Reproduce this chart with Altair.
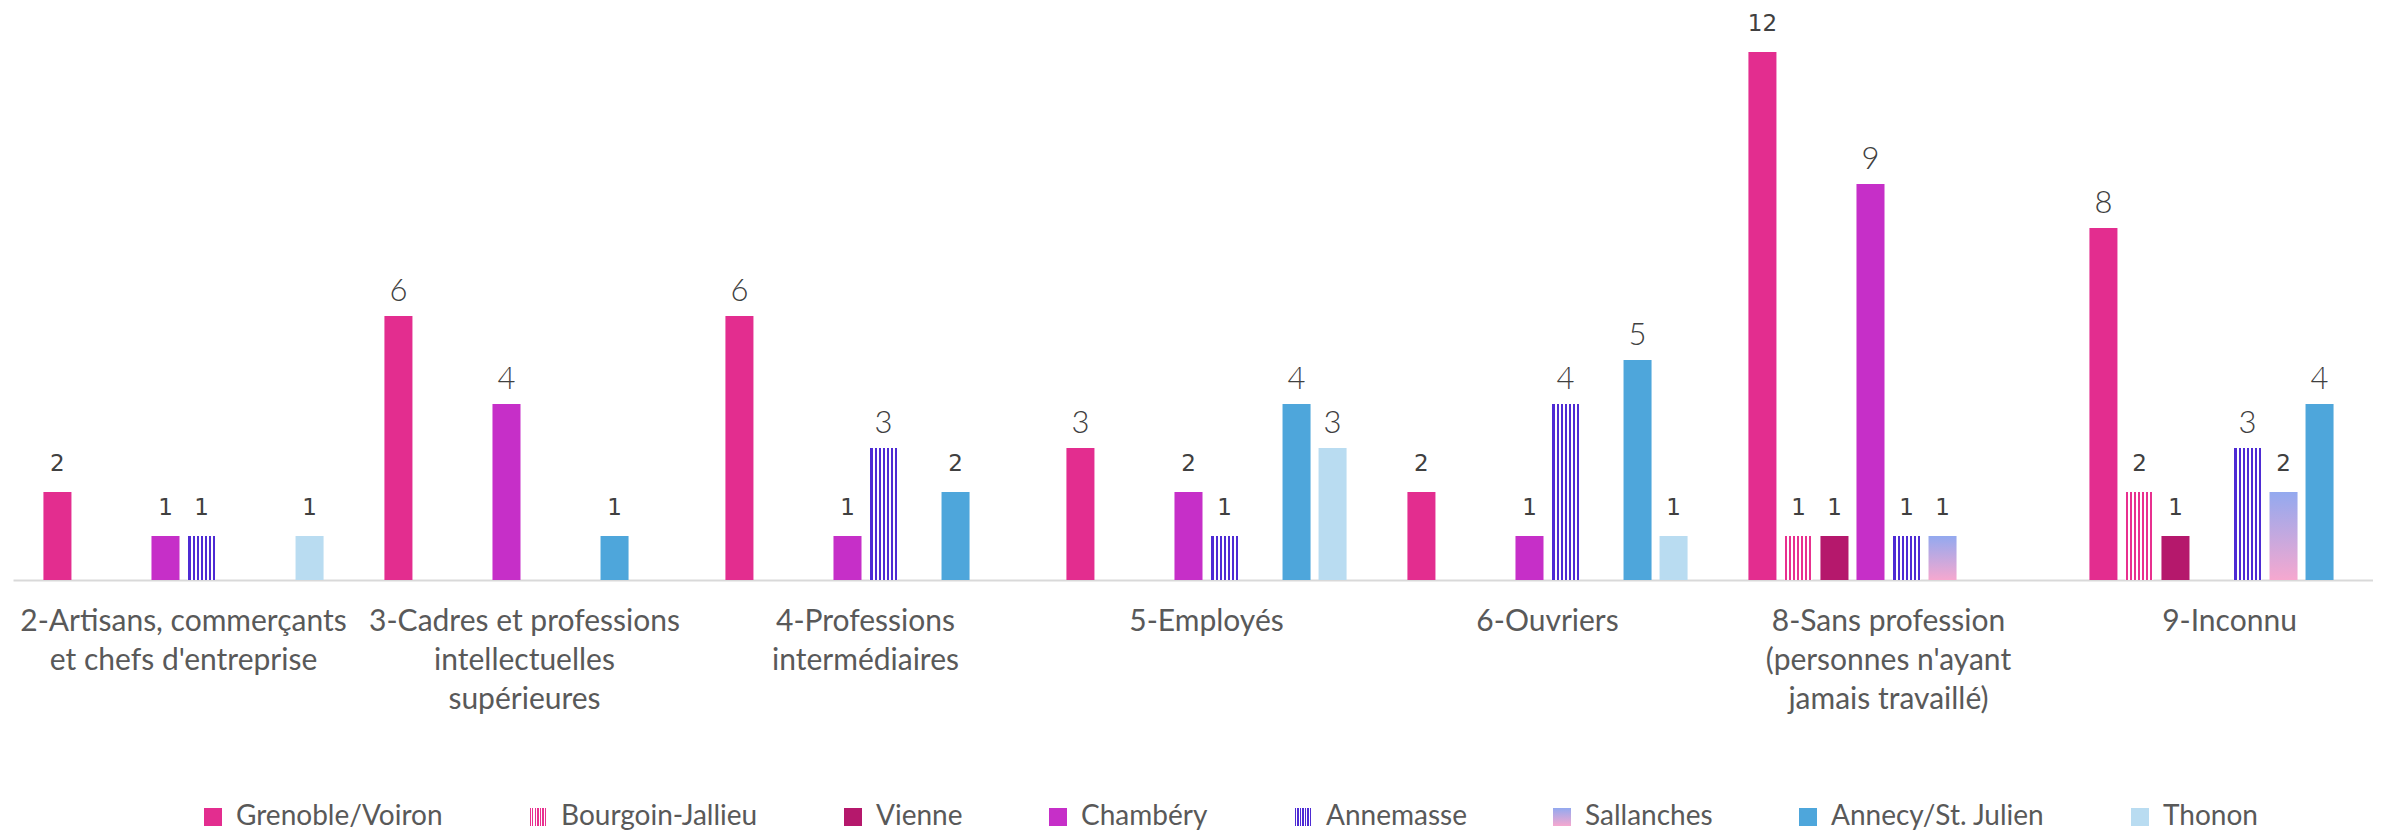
import altair as alt
import pandas as pd

# ---- data ----
categories = [
    "2-Artisans, commerçants\net chefs d'entreprise",
    "3-Cadres et professions\nintellectuelles\nsupérieures",
    "4-Professions\nintermédiaires",
    "5-Employés",
    "6-Ouvriers",
    "8-Sans profession\n(personnes n'ayant\njamais travaillé)",
    "9-Inconnu",
]
series = ["Grenoble/Voiron", "Bourgoin-Jallieu", "Vienne", "Chambéry",
          "Annemasse", "Sallanches", "Annecy/St. Julien", "Thonon"]

grenoble   = [2, 6, 6, 3, 2, 12, 8]
bourgoin   = [None, None, None, None, None, 1, 2]
vienne     = [None, None, None, None, None, 1, 1]
chambery   = [1, 4, 1, 2, 1, 9, None]
annemasse  = [1, None, 3, 1, 4, 1, 3]
sallanches = [None, None, None, None, None, 1, 2]
annecy     = [None, 1, 2, 4, 5, None, 4]
thonon     = [1, None, None, 3, 1, None, None]

values = [grenoble, bourgoin, vienne, chambery, annemasse, sallanches, annecy, thonon]

# label values drawn in the reference's smaller, heavier figure style
small_label_values = [1, 2, 12]

rows = []
for s, vals in zip(series, values):
    for c, v in zip(categories, vals):
        if v is not None:
            rows.append({"cat": c, "serie": s, "value": v})
df = pd.DataFrame(rows)

# ---- styles ----
def stripes_expr(color, n=7, width=28):
    stops = [(0, "#ffffff")]
    for k in range(n):
        a = (4 * k + 1) / width
        b = (4 * k + 3) / width
        stops += [(a, "#ffffff"), (a, color), (b, color), (b, "#ffffff")]
    stops.append((1, "#ffffff"))
    s = ",".join("{offset:%.5f,color:'%s'}" % (o, c) for o, c in stops)
    return {"expr": "{gradient:'linear',x1:0,y1:0,x2:1,y2:0,stops:[%s]}" % s}

def vgrad_expr(top, bottom):
    return {"expr": "{gradient:'linear',x1:0,y1:0,x2:0,y2:1,stops:[{offset:0,color:'%s'},{offset:1,color:'%s'}]}" % (top, bottom)}

palette = [
    "#E32D8F",
    stripes_expr("#E8308F"),
    "#B5186C",
    "#C62FC8",
    stripes_expr("#4E2BD4"),
    vgrad_expr("#93A9EF", "#F6A8CF"),
    "#4EA6DB",
    "#B9DCF1",
]

FONT = "Lato"

x_enc = alt.X("cat:N", sort=categories, title=None,
              scale=alt.Scale(range=[0, 2387], paddingInner=0.155, paddingOuter=0.0775),
              axis=alt.Axis(labelAngle=0, labelExpr="split(datum.label, '\\n')",
                            labelFont=FONT, labelFontSize=30, labelColor="#595959",
                            labelLineHeight=39, labelPadding=26, labelBaseline="top",
                            ticks=False, domainColor="#D9D9D9", domainWidth=2,
                            labelLimit=0))
xo_enc = alt.XOffset("serie:N", sort=series,
                     scale=alt.Scale(domain=series, paddingInner=0.222, paddingOuter=0.111))
y_enc = alt.Y("value:Q", title=None, axis=None,
              scale=alt.Scale(domain=[0, 13], nice=False, zero=True))

bars = alt.Chart(df).mark_bar().encode(
    x=x_enc, xOffset=xo_enc, y=y_enc,
    color=alt.Color("serie:N", sort=series,
                    scale=alt.Scale(domain=series, range=palette),
                    legend=alt.Legend(title=None, orient="none", direction="horizontal",
                                      columns=8, legendX=186, legendY=795,
                                      symbolType="square", symbolSize=324,
                                      symbolStrokeWidth=0, labelFont=FONT,
                                      labelFontSize=28, labelColor="#595959",
                                      labelLimit=0,
                                      labelOffset=9, columnPadding=81)),
)

small_filter = alt.FieldOneOfPredicate(field="value", oneOf=small_label_values)

labels_small = alt.Chart(df).transform_filter(small_filter).mark_text(
    font="DejaVu Sans", fontSize=23, color="#404040",
    baseline="alphabetic", dy=-21).encode(
    x=x_enc, xOffset=xo_enc, y=y_enc, text=alt.Text("value:Q"),
)

labels_big = alt.Chart(df).transform_filter(~small_filter).mark_text(
    font=FONT, fontSize=31, fontWeight=300, color="#404040",
    baseline="alphabetic", dy=-15).encode(
    x=x_enc, xOffset=xo_enc, y=y_enc, text=alt.Text("value:Q"),
)

chart = alt.layer(bars, labels_small, labels_big).properties(
    width=2360, height=572,
    padding={"left": 5, "top": 0, "right": 0, "bottom": 251},
    autosize=alt.AutoSizeParams(type="none"),
).configure_view(stroke=None)

chart.save("out.html", embed_options={"renderer": "svg", "actions": False})
